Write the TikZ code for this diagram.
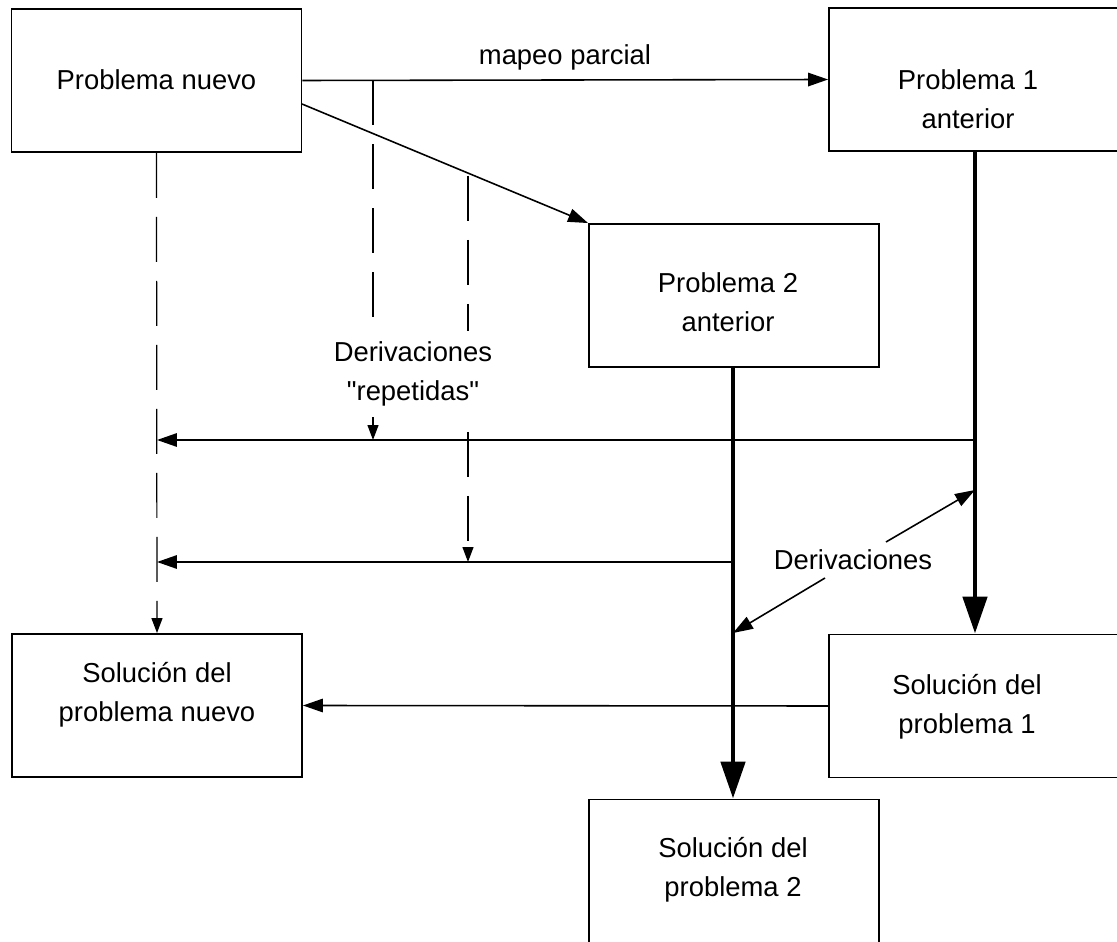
\documentclass[tikz,border=0pt]{standalone}
\usepackage{fontspec}
\setmainfont{Liberation Sans}[Ligatures=TeXOff]
\usetikzlibrary{arrows.meta}

\tikzset{
  box/.style={draw, line width=1.1pt, minimum width=5.8cm, minimum height=2.86cm, inner sep=0pt},
  txt/.style={font=\fontsize{15.6}{22}\selectfont, align=center, inner sep=0pt},
  thinarrow/.style={line width=0.9pt, -{Triangle[length=0.4cm, width=0.27cm]}},
  dasharrow/.style={line width=0.7pt, dash pattern=on 0.9cm off 0.38cm, -{Triangle[length=0.3cm, width=0.22cm]}},
  thickarrow/.style={line width=2.8pt, -{Triangle[length=0.74cm, width=0.48cm]}}
}

\begin{document}
\begin{tikzpicture}[x=0.02cm, y=-0.02cm]
\useasboundingbox (0,0) rectangle (1117,942);
\clip (0,0) rectangle (1117,942);

% boxes
\node[box] (pn) at (156.5,80.5) {};
\node[box] (p1) at (974,79.5) {};
\node[box] (p2) at (734,295.5) {};
\node[box] (sn) at (157,705.5) {};
\node[box] (s1) at (974,706) {};
\node[box] (s2) at (734,871) {};

% box texts
\node[txt] (pnt) at (156.5,80) {Problema nuevo};
\node[txt] (p1t) at (968,99) {Problema 1\\anterior};
\node[txt] (p2t) at (728,302) {Problema 2\\anterior};
\node[txt] (snt) at (157,695) {Solución del\\problema nuevo};
\node[txt] (s1t) at (967,707) {Solución del\\problema 1};
\node[txt] (s2t) at (733,870) {Solución del\\problema 2};

% points along the connectors
\coordinate (m1) at (373,80.5);
\coordinate (m1e) at (373,440);
\coordinate (m2) at (468,176);
\coordinate (m2e) at (468,562);
\coordinate (h1s) at (975,440);
\coordinate (h1e) at (157,440);
\coordinate (h2s) at (733,562);
\coordinate (h2e) at (157,562);
\coordinate (d1s) at (886,542);
\coordinate (d1e) at (975,490);
\coordinate (d2s) at (825,578);
\coordinate (d2e) at (733,633);

% partial mapping
\draw[thinarrow] (pn.east) -- (p1.west);
\draw[thinarrow] (302,104) -- (p2.north west);

% derivations of the previous problems
\draw[thickarrow] (p1.south -| h1s) -- (s1.north -| h1s);
\draw[thickarrow] (p2.south -| h2s) -- (s2.north -| h2s);

% reused derivations
\draw[thinarrow] (h1s) -- (h1e);
\draw[thinarrow] (h2s) -- (h2e);
\draw[thinarrow] (s1.west) -- (sn.east);

% repeated derivations (dashed)
\draw[dasharrow] (pn.south) -- (sn.north);
\draw[dasharrow] (m1) -- (m1e);
\draw[dasharrow] (m2) -- (m2e);

% derivation links
\draw[thinarrow] (d1s) -- (d1e);
\draw[thinarrow] (d2s) -- (d2e);

% labels
\node[txt] (lmap) at (565,57) {mapeo parcial};
\node[txt, fill=white, inner xsep=2pt, inner ysep=6pt] (lrep) at (413,374)
  {Derivaciones\\"repetidas"};
\node[txt] (lder) at (853,560) {Derivaciones};
\end{tikzpicture}
\end{document}
